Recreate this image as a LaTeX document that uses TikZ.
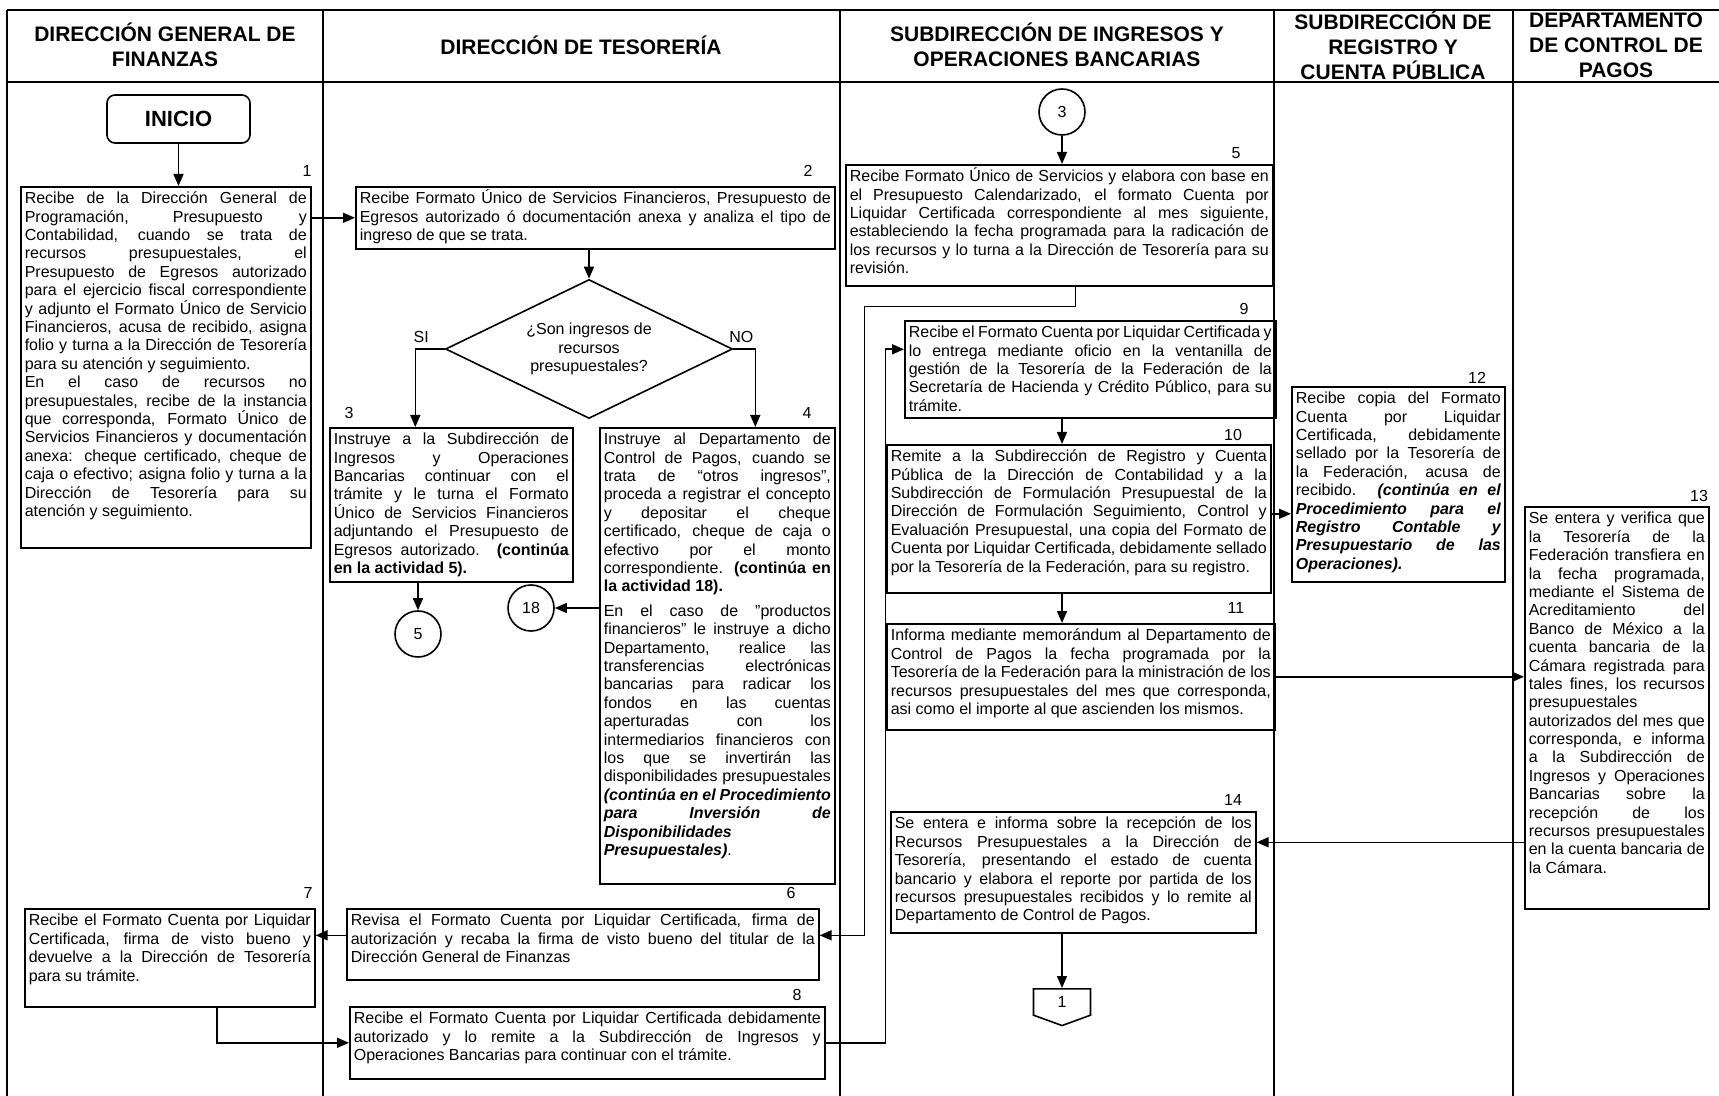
\documentclass[tikz,border=0pt]{standalone}
\usepackage{fontspec}
\setmainfont{Liberation Sans}
\usepackage{tikz}
\usetikzlibrary{positioning,shapes.geometric,shapes.symbols,arrows.meta}
\tolerance=9999
\hyphenpenalty=10000
\exhyphenpenalty=10000
\hbadness=10000
\tikzset{
    lane/.style={
        draw=black,
        semithick
    },
    head/.style={
        font=\bfseries\fontsize{10.5}{12.5}\selectfont,
        align=center,
        inner sep=0pt
    },
    num/.style={
        font=\fontsize{8}{9}\selectfont,
        inner sep=0pt
    }
}
\tikzstyle{startstop} = [rectangle, rounded corners=4pt, minimum width=71.5pt, minimum height=24pt, draw=black, thick, font=\bfseries\fontsize{11}{13}\selectfont]
\tikzstyle{process} = [rectangle, anchor=north west, align=justify, inner sep=2pt, text height=6.5pt, draw=black, thick, font=\fontsize{8}{9.2}\selectfont]
\tikzstyle{decision} = [diamond, aspect=2, minimum width=143.5pt, minimum height=69.5pt, inner sep=0pt, align=center, draw=black, thick, font=\fontsize{8}{9.4}\selectfont]
\tikzstyle{link} = [circle, minimum size=23pt, inner sep=0pt, draw=black, thick, font=\fontsize{8}{9}\selectfont]
\tikzstyle{offpage} = [signal, signal to=south, signal pointer angle=140, minimum width=28.5pt, minimum height=14pt, inner sep=0pt, draw=black, thick, font=\fontsize{8}{9}\selectfont]
\tikzstyle{arrow} = [thick,-{Triangle[length=6pt,width=5pt]}]

\begin{document}
\begin{tikzpicture}[x=0.5pt, y=-0.5pt]
          \useasboundingbox (0,0) rectangle (1719,1096);
          \draw[lane] (7,10) -- (1719,10);
          \draw[lane] (7,82) -- (1719,82);
          \foreach \x in {7,323,840,1274,1513}
              \draw[lane] (\x,10) -- (\x,1096);
          \node (h1) [head] at (165,45) {DIRECCIÓN GENERAL DE\\FINANZAS};
          \node (h2) [head] at (581,45) {DIRECCIÓN DE TESORERÍA};
          \node (h3) [head] at (1057,45) {SUBDIRECCIÓN DE INGRESOS Y\\OPERACIONES BANCARIAS};
          \node (h4) [head] at (1393,45) {SUBDIRECCIÓN DE\\REGISTRO Y\\CUENTA PÚBLICA};
          \node (h5) [head] at (1616,45) {DEPARTAMENTO\\DE CONTROL DE\\PAGOS};

          \node (start) [startstop] at (178.5,119) {INICIO};
          \node (act1) [process, text width=141pt, text depth=170pt] at (20,186) {Recibe de la Dirección General de\linebreak Programación, Presupuesto y\linebreak Contabilidad, cuando se trata de\linebreak recursos presupuestales, el\linebreak Presupuesto de Egresos autorizado\linebreak para el ejercicio fiscal correspondiente\linebreak y adjunto el Formato Único de Servicio\linebreak Financieros, acusa de recibido, asigna\linebreak folio y turna a la Dirección de Tesorería\linebreak para su atención y seguimiento.\par En el caso de recursos no\linebreak presupuestales, recibe de la instancia\linebreak que corresponda, Formato Único de\linebreak Servicios Financieros y documentación\linebreak anexa: cheque certificado, cheque de\linebreak caja o efectivo; asigna folio y turna a la\linebreak Dirección de Tesorería para su\linebreak atención y seguimiento.};
          \node (n1) [num] at (307,171) {1};
          \node (act2) [process, text width=235.5pt, text depth=20.5pt] at (355,186) {Recibe Formato Único de Servicios Financieros, Presupuesto de\linebreak Egresos autorizado ó documentación anexa y analiza el tipo de\linebreak ingreso de que se trata.};
          \node (n2) [num] at (808,171) {2};
          \node (decision1) [decision] at (589,349) {¿Son ingresos de\\recursos\\presupuestales?};
          \node (act3) [process, text width=117.5pt, text depth=66.5pt] at (329,427) {Instruye a la Subdirección de\linebreak Ingresos y Operaciones\linebreak Bancarias continuar con el\linebreak trámite y le turna el Formato\linebreak Único de Servicios Financieros\linebreak adjuntando el Presupuesto de\linebreak Egresos autorizado. \textbf{(continúa\linebreak en la actividad 5).}};
          \node (n3) [num] at (349,413) {3};
          \node (act4) [process, text width=113.5pt, text depth=217.5pt] at (599,427) {Instruye al Departamento de\linebreak Control de Pagos, cuando se\linebreak trata de “otros ingresos”,\linebreak proceda a registrar el concepto\linebreak y depositar el cheque\linebreak certificado, cheque de caja o\linebreak efectivo por el monto\linebreak correspondiente. \textbf{(continúa en\linebreak la actividad 18).}\par\vspace{3pt}En el caso de "productos\linebreak financieros" le instruye a dicho\linebreak Departamento, realice las\linebreak transferencias electrónicas\linebreak bancarias para radicar los\linebreak fondos en las cuentas\linebreak aperturadas con los\linebreak intermediarios financieros con\linebreak los que se invertirán las\linebreak disponibilidades presupuestales\linebreak \textbf{\textit{(continúa en el Procedimiento\linebreak para Inversión de\linebreak Disponibilidades\newline Presupuestales)}}.};
          \node (n4) [num] at (807,413) {4};
          \node (link5) [link] at (418,634) {5};
          \node (link18) [link] at (531,608) {18};

          \node (link3) [link] at (1062,112) {3};
          \node (act5) [process, text width=209.5pt, text depth=50pt] at (845,164) {Recibe Formato Único de Servicios y elabora con base en\linebreak el Presupuesto Calendarizado, el formato Cuenta por\linebreak Liquidar Certificada correspondiente al mes siguiente,\linebreak estableciendo la fecha programada para la radicación de\linebreak los recursos y lo turna a la Dirección de Tesorería para su\linebreak revisión.};
          \node (n5) [num] at (1236,153) {5};
          \node (act6) [process, text width=232pt, text depth=25pt] at (346,908) {Revisa el Formato Cuenta por Liquidar Certificada, firma de\linebreak autorización y recaba la firma de visto bueno del titular de la\linebreak Dirección General de Finanzas};
          \node (n6) [num] at (791,893) {6};
          \node (act7) [process, text width=141pt, text depth=38.5pt] at (24,908) {Recibe el Formato Cuenta por Liquidar\linebreak Certificada, firma de visto bueno y\linebreak devuelve a la Dirección de Tesorería\linebreak para su trámite.};
          \node (n7) [num] at (308,893) {7};
          \node (act8) [process, text width=233.5pt, text depth=25.5pt] at (349,1006) {Recibe el Formato Cuenta por Liquidar Certificada debidamente\linebreak autorizado y lo remite a la Subdirección de Ingresos y\linebreak Operaciones Bancarias para continuar con el trámite.};
          \node (n8) [num] at (797,995) {8};
          \node (act9) [process, text width=181.5pt, text depth=38pt] at (904,320) {Recibe el Formato Cuenta por Liquidar Certificada y\linebreak lo entrega mediante oficio en la ventanilla de\linebreak gestión de la Tesorería de la Federación de la\linebreak Secretaría de Hacienda y Crédito Público, para su\linebreak trámite.};
          \node (n9) [num] at (1244,309) {9};
          \node (act10) [process, text width=188pt, text depth=63.5pt] at (886,444) {Remite a la Subdirección de Registro y Cuenta\linebreak Pública de la Dirección de Contabilidad y a la\linebreak Subdirección de Formulación Presupuestal de la\linebreak Dirección de Formulación Seguimiento, Control y\linebreak Evaluación Presupuestal, una copia del Formato de\linebreak Cuenta por Liquidar Certificada, debidamente sellado\linebreak por la Tesorería de la Federación, para su registro.};
          \node (n10) [num] at (1233,435) {10};
          \node (act11) [process, text width=190pt, text depth=42.5pt] at (886,623) {Informa mediante memorándum al Departamento de\linebreak Control de Pagos la fecha programada por la\linebreak Tesorería de la Federación para la ministración de los\linebreak recursos presupuestales del mes que corresponda,\linebreak asi como el importe al que ascienden los mismos.};
          \node (n11) [num] at (1236,608) {11};
          \node (act12) [process, text width=102.5pt, text depth=87pt] at (1291,386) {Recibe copia del Formato\linebreak Cuenta por Liquidar\linebreak Certificada, debidamente\linebreak sellado por la Tesorería de\linebreak la Federación, acusa de\linebreak recibido. \textbf{\textit{(continúa en el\linebreak Procedimiento para el\linebreak Registro Contable y\linebreak Presupuestario de las\linebreak Operaciones).}}};
          \node (n12) [num] at (1477,378) {12};
          \node (act13) [process, text width=88pt, text depth=190.5pt] at (1524,506) {Se entera y verifica que\linebreak la Tesorería de la\linebreak Federación transfiera en\linebreak la fecha programada,\linebreak mediante el Sistema de\linebreak Acreditamiento del\linebreak Banco de México a la\linebreak cuenta bancaria de la\linebreak Cámara registrada para\linebreak tales fines, los recursos\linebreak presupuestales\newline autorizados del mes que\linebreak corresponda, e informa\linebreak a la Subdirección de\linebreak Ingresos y Operaciones\linebreak Bancarias sobre la\linebreak recepción de los\linebreak recursos presupuestales\linebreak en la cuenta bancaria de\linebreak la Cámara.};
          \node (n13) [num] at (1699,496) {13};
          \node (act14) [process, text width=178.5pt, text depth=50pt] at (890,811) {Se entera e informa sobre la recepción de los\linebreak Recursos Presupuestales a la Dirección de\linebreak Tesorería, presentando el estado de cuenta\linebreak bancario y elabora el reporte por partida de los\linebreak recursos presupuestales recibidos y lo remite al\linebreak Departamento de Control de Pagos.};
          \node (n14) [num] at (1233,800) {14};
          \node (page1) [offpage, anchor=north] at (1062,988) {1};

          \draw [arrow] (start.south) -- (start.south |- act1.north);
          \draw [arrow] (act1.east |- act2.west) -- (act2.west);
          \draw [arrow] (decision1.north |- act2.south) -- (decision1.north);
          \draw [arrow] (decision1.west) -| node (si) [pos=0.5, above, xshift=3pt, yshift=3pt, num] {SI} ([xshift=-18pt]act3.north);
          \draw [arrow] (decision1.east) -| node (no) [pos=0.5, above, xshift=-7pt, yshift=3pt, num] {NO} ([xshift=19pt]act4.north);
          \draw [arrow] (link5.north |- act3.south) -- (link5.north);
          \draw [arrow] (act4.west |- link18.east) -- (link18.east);
          \draw [arrow] (link3.south) -- (link3.south |- act5.north);
          \draw [arrow] ([xshift=8pt]act5.south) -- ++(0,20) -| ([xshift=22.5pt,yshift=4.5pt]act6.east) -- ([yshift=4.5pt]act6.east);
          \draw [arrow] ([yshift=4.5pt]act6.west) -- ([yshift=4.5pt]act6.west -| act7.east);
          \draw [arrow] ([xshift=23.5pt]act7.south) |- (act8.west);
          \draw [arrow] (act8.east) -- ++(60,0) |- ([yshift=10pt]act9.west);
          \draw [arrow] (act9.south -| link3) -- (act10.north -| link3);
          \draw [arrow] (act10.south -| link3) -- (act11.north -| link3);
          \draw [arrow] ([yshift=2.5pt]act10.east) -- ([yshift=2.5pt]act10.east -| act12.west);
          \draw [arrow] (act11.east) -- (act11.east -| act13.west);
          \draw [arrow] ([yshift=15pt]act14.east -| act13.west) -- ([yshift=15pt]act14.east);
          \draw [arrow] (act14.south -| link3) -- (page1.north);
        \end{tikzpicture}
\end{document}
